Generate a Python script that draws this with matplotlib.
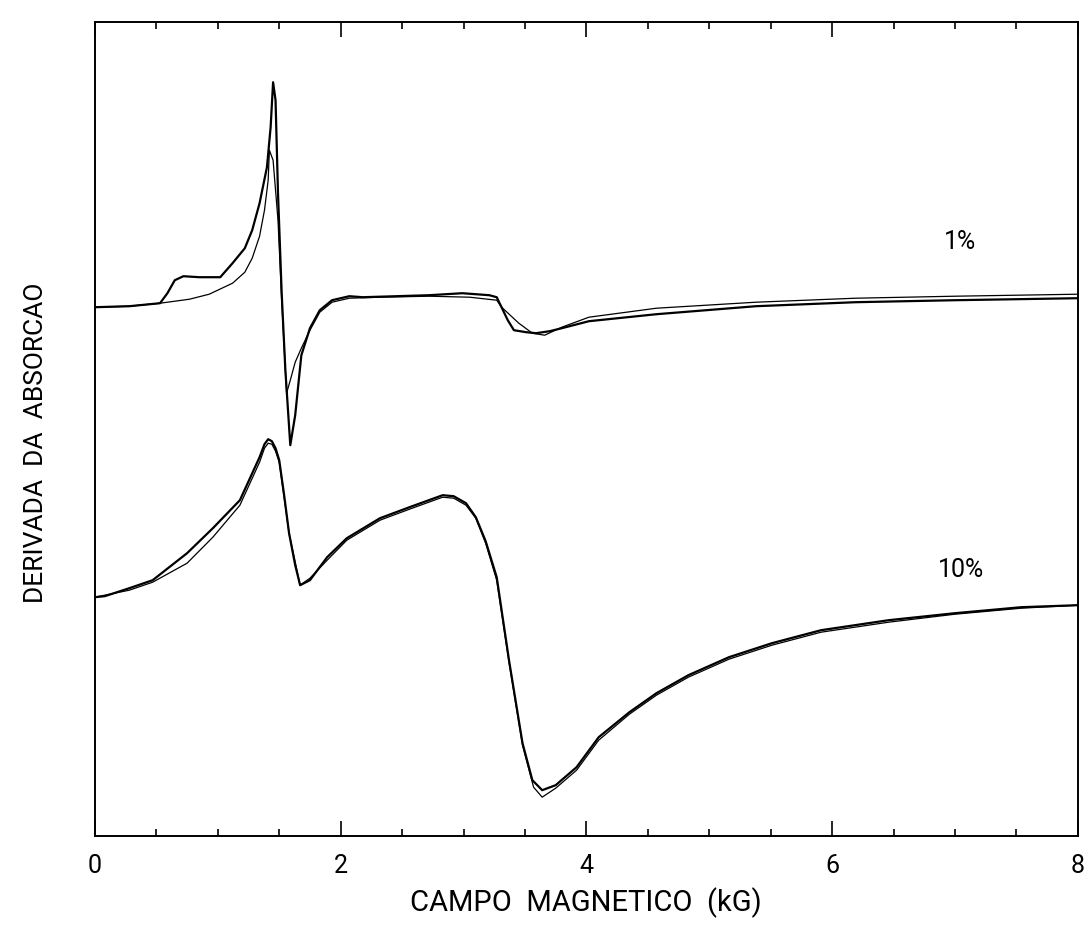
import matplotlib
matplotlib.use('Agg')
import matplotlib.pyplot as plt
from matplotlib.ticker import MultipleLocator

plt.rcParams.update({
    "font.family": ["Roboto", "DejaVu Sans"],
    "font.weight": "normal",
    "figure.facecolor": "white",
    "axes.facecolor": "white",
})

# ---------------------------------------------------------------------------
# Data (field in kG, derivative in arbitrary units)
# ---------------------------------------------------------------------------
# 1% sample - experimental
exp1_x = [0.0, 0.28, 0.53, 0.59, 0.65, 0.72, 0.85, 1.02, 1.12, 1.22, 1.28, 1.34,
          1.40, 1.43, 1.45, 1.47, 1.49, 1.52, 1.55, 1.59, 1.63, 1.68, 1.75, 1.83,
          1.93, 2.07, 2.18, 2.45, 2.72, 2.99, 3.21, 3.27, 3.36, 3.41, 3.51, 3.59,
          3.70, 3.80, 4.02, 4.57, 5.38, 6.19, 7.00, 8.0]
exp1_y = [5.29, 5.30, 5.33, 5.43, 5.56, 5.60, 5.59, 5.59, 5.73, 5.88, 6.06, 6.33,
          6.69, 7.09, 7.54, 7.36, 6.43, 5.43, 4.66, 3.91, 4.21, 4.81, 5.08, 5.26,
          5.36, 5.40, 5.39, 5.40, 5.41, 5.43, 5.41, 5.39, 5.16, 5.06, 5.04, 5.03,
          5.05, 5.08, 5.15, 5.22, 5.30, 5.34, 5.36, 5.38]

# 1% sample - fit
fit1_x = [0.0, 0.28, 0.53, 0.77, 0.93, 1.12, 1.22, 1.28, 1.34, 1.38, 1.41, 1.42,
          1.45, 1.49, 1.52, 1.56, 1.59, 1.63, 1.68, 1.75, 1.83, 1.93, 2.07, 2.32,
          2.72, 3.05, 3.27, 3.31, 3.45, 3.56, 3.66, 3.80, 4.02, 4.57, 5.38, 6.19,
          7.00, 8.0]
fit1_y = [5.29, 5.30, 5.33, 5.37, 5.42, 5.53, 5.64, 5.78, 6.00, 6.26, 6.56, 6.86,
          6.76, 6.16, 5.36, 4.43, 4.56, 4.74, 4.88, 5.06, 5.24, 5.34, 5.38, 5.39,
          5.40, 5.39, 5.36, 5.29, 5.13, 5.03, 5.01, 5.09, 5.19, 5.28, 5.34, 5.38,
          5.40, 5.42]

# 10% sample - experimental
exp10_x = [0.0, 0.08, 0.28, 0.47, 0.75, 0.96, 1.18, 1.34, 1.38, 1.41, 1.44, 1.47,
           1.50, 1.54, 1.58, 1.63, 1.67, 1.75, 1.89, 2.05, 2.32, 2.56, 2.83, 2.92,
           3.02, 3.10, 3.18, 3.27, 3.37, 3.48, 3.56, 3.64, 3.75, 3.92, 4.10, 4.35,
           4.57, 4.83, 5.16, 5.51, 5.91, 6.46, 7.00, 7.54, 8.0]
exp10_y = [2.39, 2.40, 2.48, 2.56, 2.83, 3.08, 3.36, 3.79, 3.92, 3.97, 3.95, 3.88,
           3.76, 3.41, 3.03, 2.71, 2.51, 2.56, 2.79, 2.98, 3.18, 3.29, 3.41, 3.40,
           3.33, 3.19, 2.95, 2.59, 1.76, 0.93, 0.56, 0.46, 0.51, 0.69, 0.99, 1.24,
           1.43, 1.61, 1.79, 1.93, 2.06, 2.16, 2.23, 2.29, 2.31]

# 10% sample - fit
fit10_x = [0.0, 0.28, 0.47, 0.75, 0.96, 1.18, 1.34, 1.38, 1.41, 1.44, 1.47, 1.50,
           1.58, 1.67, 1.75, 1.89, 2.05, 2.32, 2.56, 2.83, 2.92, 3.02, 3.10, 3.18,
           3.27, 3.37, 3.48, 3.57, 3.64, 3.75, 3.92, 4.10, 4.35, 4.57, 4.83, 5.16,
           5.51, 5.91, 6.46, 7.00, 7.54, 8.0]
fit10_y = [2.39, 2.46, 2.54, 2.73, 2.99, 3.31, 3.74, 3.88, 3.93, 3.92, 3.85, 3.74,
           3.03, 2.51, 2.58, 2.76, 2.96, 3.16, 3.27, 3.39, 3.38, 3.31, 3.18, 2.93,
           2.56, 1.74, 0.91, 0.49, 0.39, 0.48, 0.66, 0.96, 1.22, 1.41, 1.59, 1.77,
           1.91, 2.04, 2.14, 2.22, 2.28, 2.31]

X_TICKS = [0, 2, 4, 6, 8]
X_TICK_LABELS = ["0", "2", "4", "6", "8"]

# ---------------------------------------------------------------------------
# Figure
# ---------------------------------------------------------------------------
fig = plt.figure(figsize=(10.91, 9.26), dpi=100)
ax = fig.add_axes([0.087, 0.097, 0.901, 0.879])

ax.plot(exp1_x, exp1_y, color="black", linewidth=1.6)
ax.plot(fit1_x, fit1_y, color="black", linewidth=0.9)
ax.plot(exp10_x, exp10_y, color="black", linewidth=1.6)
ax.plot(fit10_x, fit10_y, color="black", linewidth=0.9)

ax.text(7.04, 5.94, "1%", fontsize=18, ha="center", va="center")
ax.text(7.05, 2.66, "10%", fontsize=18, ha="center", va="center")

ax.set_xlim(0, 8)
ax.set_ylim(0, 8.14)
ax.set_xticks(X_TICKS)
ax.set_xticklabels(X_TICK_LABELS, fontsize=18)
ax.xaxis.set_minor_locator(MultipleLocator(0.5))
ax.tick_params(axis="x", which="major", direction="in", length=11, width=1.2,
               top=True, pad=13)
ax.tick_params(axis="x", which="minor", direction="in", length=5, width=1.2,
               top=True)
ax.set_yticks([])

for sp in ax.spines.values():
    sp.set_linewidth(1.4)

fig.text(0.537, 0.025, "CAMPO  MAGNETICO  (kG)", fontsize=21,
         ha="center", va="center")
fig.text(0.033, 0.522, "DERIVADA  DA  ABSORCAO", fontsize=19,
         rotation=90, ha="center", va="center")

plt.savefig("out.png", dpi=100)
plt.close()
